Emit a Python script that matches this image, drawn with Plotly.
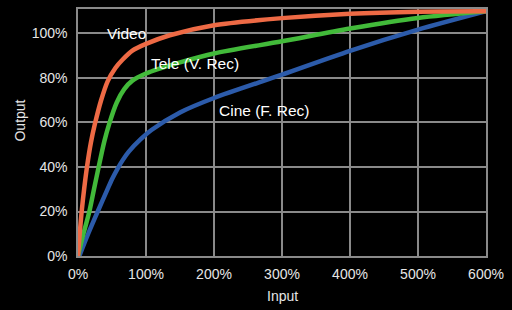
import plotly.graph_objects as go

# Data (input %, output %)
video_x = [0, 2.5, 5.4, 9, 13.2, 19, 25, 34, 43.6, 55, 65.7, 80, 100, 135, 200, 300, 400, 500, 600]
video_y = [0, 10, 20, 30, 40, 51, 59.5, 70, 78.5, 84.5, 88.3, 92.3, 95.3, 99.2, 103.7, 106.9, 108.9, 109.8, 110]

tele_x = [0, 8, 16.7, 23.5, 30.4, 38.7, 46, 57, 68, 80, 100, 120, 150, 200, 300, 400, 500, 600]
tele_y = [0, 10, 20, 30, 40, 51.5, 59.5, 69, 75, 78.8, 82, 84.2, 87, 91, 96.5, 102.2, 107, 110]

cine_x = [2, 15, 29, 43, 50, 58.3, 66, 75, 92.6, 108, 150, 200, 300, 400, 500, 600]
cine_y = [0, 10, 20, 29.7, 34.5, 39.3, 43.2, 47, 52.6, 56.6, 64.5, 71, 81.5, 92.2, 101.7, 110]

x_ticks = [0, 100, 200, 300, 400, 500, 600]
x_labels = ["0%", "100%", "200%", "300%", "400%", "500%", "600%"]
y_ticks = [0, 20, 40, 60, 80, 100]
y_labels = ["0%", "20%", "40%", "60%", "80%", "100%"]

series = [
    ("Video", video_x, video_y, "#EE6A45"),
    ("Tele (V. Rec)", tele_x, tele_y, "#42BA3A"),
    ("Cine (F. Rec)", cine_x, cine_y, "#2C5BAA"),
]

fig = go.Figure()
for name, xs, ys, col in reversed(series):
    fig.add_trace(go.Scatter(x=xs, y=ys, mode="lines", name=name,
                             line=dict(color=col, width=4.5, shape="spline", smoothing=0.8),
                             showlegend=False, hoverinfo="skip"))

FONT = "Liberation Sans, Arial, Helvetica, sans-serif"
grid = "#8a8a8a"

fig.update_layout(
    width=512, height=310,
    paper_bgcolor="black", plot_bgcolor="black",
    margin=dict(l=78, r=26, t=7, b=53.5),
    font=dict(family=FONT, color="#e6e6e6", size=14),
    xaxis=dict(range=[0, 600], tickvals=x_ticks, ticktext=x_labels,
               showgrid=True, gridcolor=grid, gridwidth=1.5,
               showline=True, linecolor=grid, linewidth=1.5, mirror=True,
               zeroline=False, ticks="", ticklabelstandoff=4,
               tickfont=dict(size=14, color="#e6e6e6")),
    yaxis=dict(range=[0, 111], tickvals=y_ticks, ticktext=y_labels,
               showgrid=True, gridcolor=grid, gridwidth=1.5,
               showline=True, linecolor=grid, linewidth=1.5, mirror=True,
               zeroline=False, ticks="", ticklabelstandoff=6,
               tickfont=dict(size=14, color="#e6e6e6")),
    annotations=[
        dict(text="Input", xref="paper", yref="paper", x=0.5, y=(256.5 - 297) / 249.8,
             xanchor="center", yanchor="middle", showarrow=False,
             font=dict(size=14, color="#e6e6e6", family=FONT)),
        dict(text="Output", xref="paper", yref="paper", x=(20.5 - 78) / 408, y=(256.5 - 120) / 249.8,
             xanchor="center", yanchor="middle", textangle=-90, showarrow=False,
             font=dict(size=14, color="#e6e6e6", family=FONT)),
        dict(text="Video", x=70.6, y=99.8, xref="x", yref="y", showarrow=False,
             xanchor="center", yanchor="middle", font=dict(size=15.5, color="white", family=FONT)),
        dict(text="Tele (V. Rec)", x=172, y=86.4, xref="x", yref="y", showarrow=False,
             xanchor="center", yanchor="middle", font=dict(size=15.5, color="white", family=FONT)),
        dict(text="Cine (F. Rec)", x=273.5, y=65.5, xref="x", yref="y", showarrow=False,
             xanchor="center", yanchor="middle", font=dict(size=15.5, color="white", family=FONT)),
    ],
)

fig.write_html("out.html", config={"displayModeBar": False},
               post_script="document.body.style.margin='0';document.body.style.background='black';")
